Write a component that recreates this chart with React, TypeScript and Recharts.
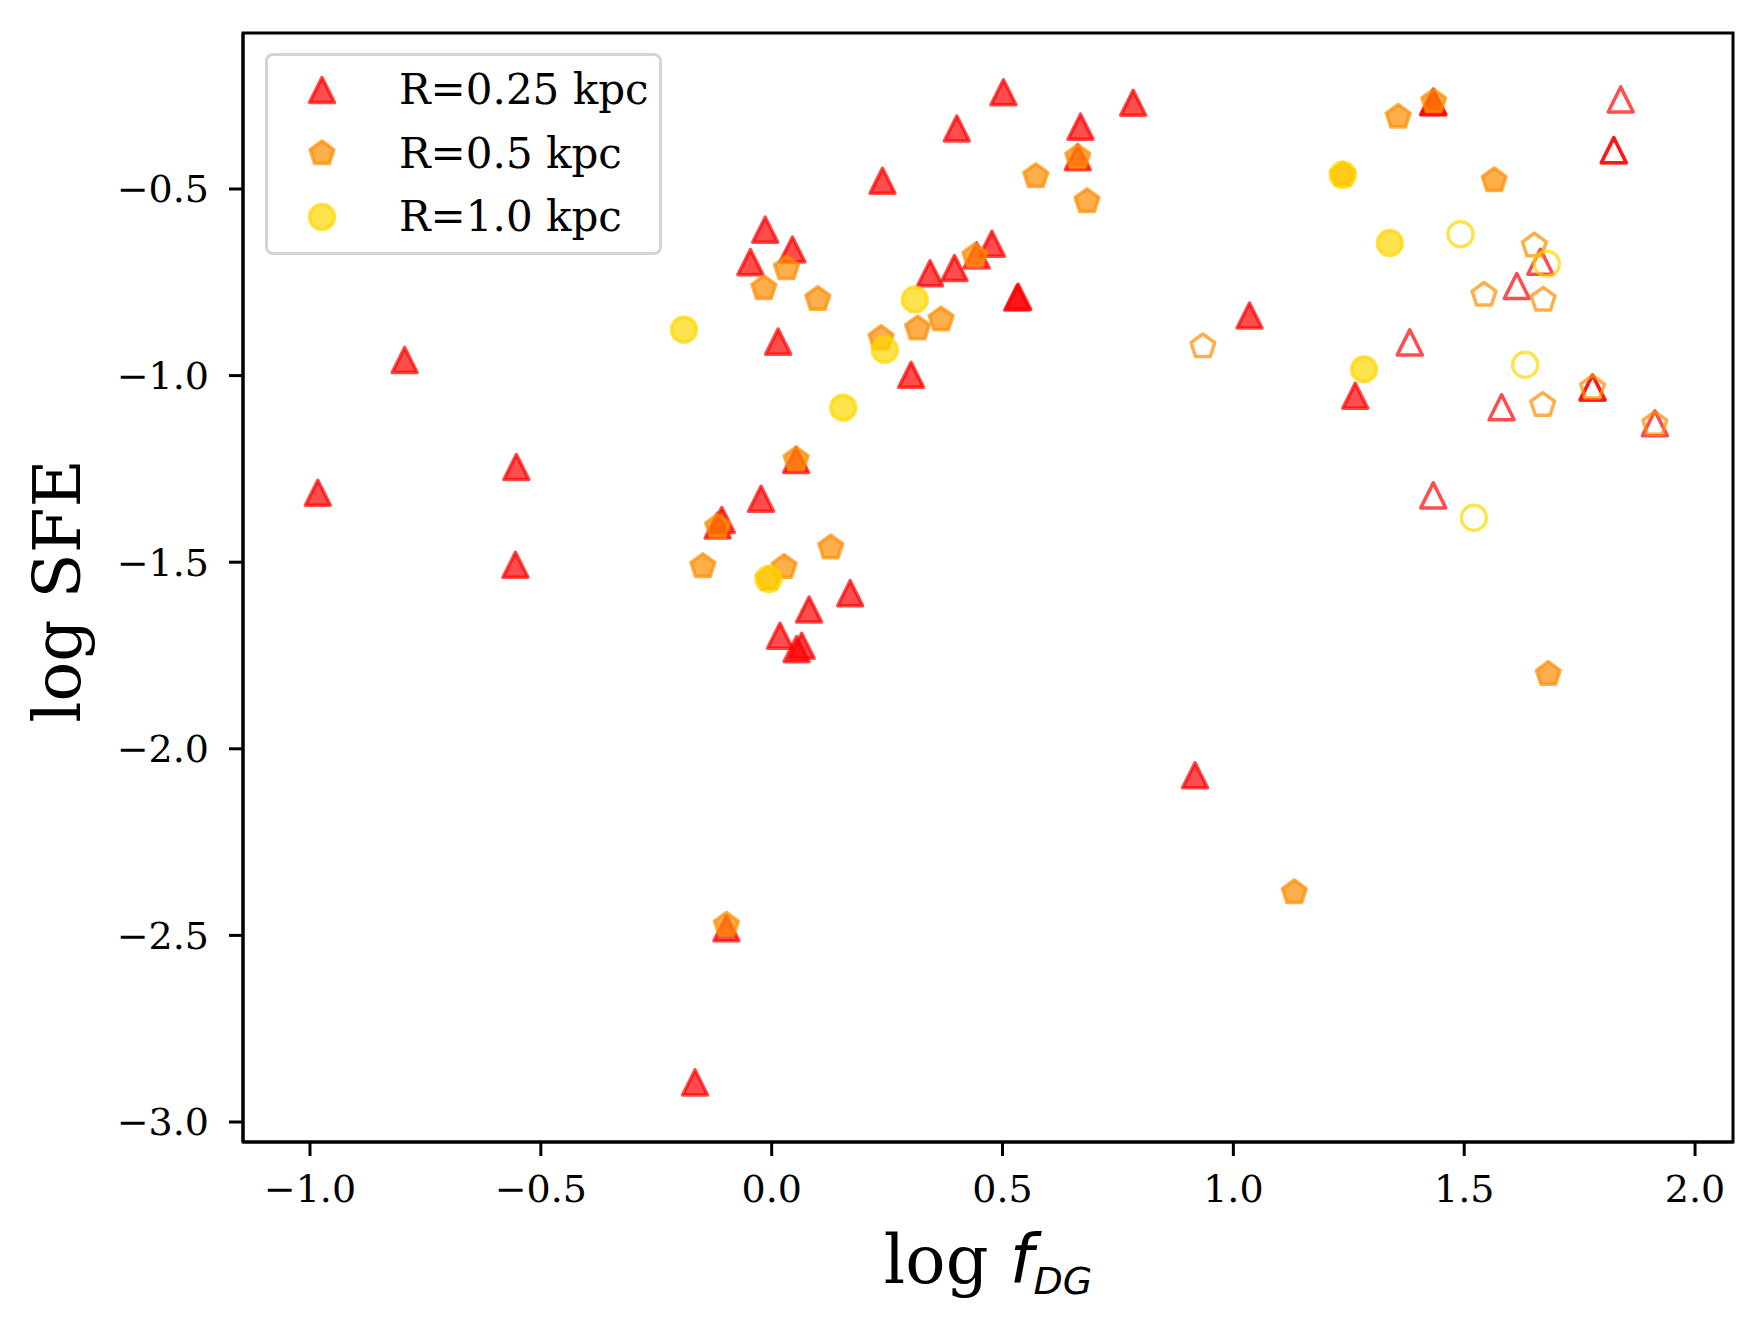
import React from 'react';
import { ScatterChart, Scatter, XAxis, YAxis, Legend, ReferenceArea } from 'recharts';

// legend names and axis ticks
const seriesNames = ['R=0.25 kpc', 'R=0.5 kpc', 'R=1.0 kpc'];
const xTicks = [-1.0, -0.5, 0.0, 0.5, 1.0, 1.5, 2.0];
const yTicks = [-3.0, -2.5, -2.0, -1.5, -1.0, -0.5];

// R=0.25 kpc (triangles), filled and open
const r025Filled = [
  { x: -0.983, y: -1.314 }, { x: -0.795, y: -0.958 }, { x: -0.553, y: -1.245 },
  { x: -0.555, y: -1.507 }, { x: -0.166, y: -2.894 }, { x: -0.098, y: -2.481 },
  { x: -0.108, y: -1.387 }, { x: -0.117, y: -1.402 }, { x: -0.023, y: -1.33 },
  { x: -0.014, y: -0.609 }, { x: -0.046, y: -0.696 }, { x: 0.045, y: -0.662 },
  { x: 0.014, y: -0.909 }, { x: 0.053, y: -1.226 }, { x: 0.018, y: -1.697 },
  { x: 0.065, y: -1.724 }, { x: 0.054, y: -1.733 }, { x: 0.081, y: -1.627 },
  { x: 0.17, y: -1.583 }, { x: 0.24, y: -0.478 }, { x: 0.302, y: -0.998 },
  { x: 0.343, y: -0.726 }, { x: 0.396, y: -0.712 }, { x: 0.401, y: -0.338 },
  { x: 0.444, y: -0.678 }, { x: 0.477, y: -0.647 }, { x: 0.502, y: -0.241 },
  { x: 0.532, y: -0.791 }, { x: 0.534, y: -0.789 }, { x: 0.663, y: -0.415 },
  { x: 0.669, y: -0.333 }, { x: 0.783, y: -0.269 }, { x: 0.917, y: -2.071 },
  { x: 1.035, y: -0.839 }, { x: 1.264, y: -1.054 }, { x: 1.433, y: -0.266 },
  { x: 1.433, y: -0.268 },
];
const r025Open = [
  { x: 1.839, y: -0.26 }, { x: 1.824, y: -0.396 }, { x: 1.824, y: -0.396 },
  { x: 1.665, y: -0.695 }, { x: 1.614, y: -0.76 }, { x: 1.382, y: -0.911 },
  { x: 1.778, y: -1.032 }, { x: 1.778, y: -1.032 }, { x: 1.913, y: -1.128 },
  { x: 1.581, y: -1.085 }, { x: 1.433, y: -1.321 },
];

// R=0.5 kpc (pentagons)
const r05Filled = [
  { x: -0.149, y: -1.511 }, { x: -0.117, y: -1.405 }, { x: -0.098, y: -2.472 },
  { x: -0.017, y: -0.766 }, { x: 0.027, y: -1.513 }, { x: 0.032, y: -0.713 },
  { x: 0.053, y: -1.225 }, { x: 0.1, y: -0.795 }, { x: 0.128, y: -1.461 },
  { x: -0.007, y: -1.545 }, { x: 0.237, y: -0.9 }, { x: 0.316, y: -0.874 },
  { x: 0.367, y: -0.85 }, { x: 0.44, y: -0.68 }, { x: 0.572, y: -0.466 },
  { x: 0.663, y: -0.415 }, { x: 0.683, y: -0.533 }, { x: 1.132, y: -2.385 },
  { x: 1.237, y: -0.462 }, { x: 1.357, y: -0.307 }, { x: 1.434, y: -0.266 },
  { x: 1.565, y: -0.477 }, { x: 1.682, y: -1.8 },
];
const r05Open = [
  { x: 0.934, y: -0.922 }, { x: 1.543, y: -0.784 }, { x: 1.652, y: -0.652 },
  { x: 1.671, y: -0.797 }, { x: 1.67, y: -1.079 }, { x: 1.778, y: -1.033 },
  { x: 1.913, y: -1.13 },
];

// R=1.0 kpc (circles)
const r10Filled = [
  { x: -0.19, y: -0.877 }, { x: -0.007, y: -1.545 }, { x: 0.155, y: -1.086 },
  { x: 0.245, y: -0.931 }, { x: 0.31, y: -0.796 }, { x: 1.237, y: -0.462 },
  { x: 1.339, y: -0.645 }, { x: 1.283, y: -0.983 },
];
const r10Open = [
  { x: 1.492, y: -0.621 }, { x: 1.679, y: -0.7 }, { x: 1.632, y: -0.971 },
  { x: 1.521, y: -1.381 },
];

const W = 1764;
const H = 1331;
const SERIF = "'DejaVu Serif', serif";
const SANS = "'DejaVu Sans', sans-serif";
const X_DOMAIN = [-1.1451, 2.0822];
const Y_DOMAIN = [-3.0536, -0.082];
const RED = '#ff0000';
const ORANGE = '#ff8c00';
const GOLD = '#ffd700';
const R = 12.5;

type Kind = 'tri' | 'pent' | 'circ';

const Marker = ({ cx, cy, kind, color, filled }: { cx: number; cy: number; kind: Kind; color: string; filled: boolean }) => {
  if (cx == null || cy == null) return null;
  const style = {
    stroke: color,
    strokeOpacity: 0.7,
    strokeWidth: 3.5,
    strokeLinejoin: 'round' as const,
    fill: filled ? color : 'none',
    fillOpacity: filled ? 0.7 : 0,
  };
  if (kind === 'circ') return <circle cx={cx} cy={cy} r={R} {...style} />;
  if (kind === 'tri') {
    return <polygon points={`${cx},${cy - R} ${cx - R},${cy + R} ${cx + R},${cy + R}`} {...style} />;
  }
  const pts = [0, 1, 2, 3, 4]
    .map(k => {
      const a = (-90 + k * 72) * Math.PI / 180;
      return `${cx + R * Math.cos(a)},${cy + R * Math.sin(a)}`;
    })
    .join(' ');
  return <polygon points={pts} {...style} />;
};

const shapeOf = (kind: Kind, color: string, filled: boolean) => (p: any) =>
  <Marker cx={p.cx} cy={p.cy} kind={kind} color={color} filled={filled} />;

const fmt = (v: number) => v.toFixed(1).replace('-', '\u2212');

const XLabel = (props: any) => {
  const vb = props.viewBox || { x: 243, width: 1490 };
  return (
    <text x={vb.x + vb.width / 2} y={1283} textAnchor="middle" fill="#000" fontSize={67}>
      <tspan fontFamily={SERIF}>log </tspan>
      <tspan fontFamily={SANS} fontStyle="italic">f</tspan>
      <tspan fontFamily={SANS} fontStyle="italic" fontSize={38} dy={11}>DG</tspan>
    </text>
  );
};

const YLabel = () => (
  <text x={80} y={591} transform="rotate(-90 80 591)" textAnchor="middle" fill="#000" fontSize={66} fontFamily={SERIF}>
    log SFE
  </text>
);

const legendRows: { kind: Kind; color: string }[] = [
  { kind: 'tri', color: RED },
  { kind: 'pent', color: ORANGE },
  { kind: 'circ', color: GOLD },
];

const LegendBox = () => (
  <div style={{ width: 397, height: 202, boxSizing: 'border-box', border: '3px solid #d5d5d5', borderRadius: 8, background: 'rgba(255,255,255,0.8)' }}>
    <svg width={391} height={196} style={{ display: 'block' }}>
      {legendRows.map((r, i) => {
        const y = 34 + i * 63.5;
        return (
          <g key={seriesNames[i]}>
            <Marker cx={54} cy={y} kind={r.kind} color={r.color} filled />
            <text x={131} y={y + 14} fontSize={42} fontFamily={SERIF} fill="#000">{seriesNames[i]}</text>
          </g>
        );
      })}
    </svg>
  </div>
);

const axisStroke = { stroke: '#000', strokeWidth: 3 };
const tickFont = { fontSize: 38, fill: '#000', fontFamily: SERIF };

const App: React.FC = () => (
  <div style={{ position: 'absolute', left: 0, top: 0, width: W, height: H, background: '#fff' }}>
    <ScatterChart width={W} height={H} margin={{ top: 33, right: 31, bottom: 0, left: 0 }}>
      <XAxis
        type="number"
        dataKey="x"
        domain={X_DOMAIN}
        ticks={xTicks}
        interval={0}
        allowDataOverflow
        height={189}
        tickFormatter={fmt}
        tick={tickFont}
        tickSize={14}
        tickMargin={19}
        axisLine={axisStroke}
        tickLine={axisStroke}
        label={XLabel}
      />
      <YAxis
        type="number"
        dataKey="y"
        domain={Y_DOMAIN}
        ticks={yTicks}
        interval={0}
        allowDataOverflow
        width={243}
        tickFormatter={fmt}
        tick={tickFont}
        tickSize={14}
        tickMargin={20}
        axisLine={axisStroke}
        tickLine={axisStroke}
        label={YLabel}
      />
      <ReferenceArea x1={X_DOMAIN[0]} x2={X_DOMAIN[1]} y1={Y_DOMAIN[0]} y2={Y_DOMAIN[1]} fill="none" stroke="#000" strokeWidth={3} ifOverflow="visible" />
      <Scatter name={seriesNames[0]} data={r025Filled} shape={shapeOf('tri', RED, true)} isAnimationActive={false} />
      <Scatter name={seriesNames[1]} data={r05Filled} shape={shapeOf('pent', ORANGE, true)} isAnimationActive={false} />
      <Scatter name={seriesNames[2]} data={r10Filled} shape={shapeOf('circ', GOLD, true)} isAnimationActive={false} />
      <Scatter data={r025Open} shape={shapeOf('tri', RED, false)} legendType="none" isAnimationActive={false} />
      <Scatter data={r05Open} shape={shapeOf('pent', ORANGE, false)} legendType="none" isAnimationActive={false} />
      <Scatter data={r10Open} shape={shapeOf('circ', GOLD, false)} legendType="none" isAnimationActive={false} />
      <Legend
        layout="vertical"
        align="center"
        verticalAlign="middle"
        wrapperStyle={{ left: 265, top: 53, width: 397, height: 202 }}
        content={() => <LegendBox />}
      />
    </ScatterChart>
  </div>
);

export default App;
